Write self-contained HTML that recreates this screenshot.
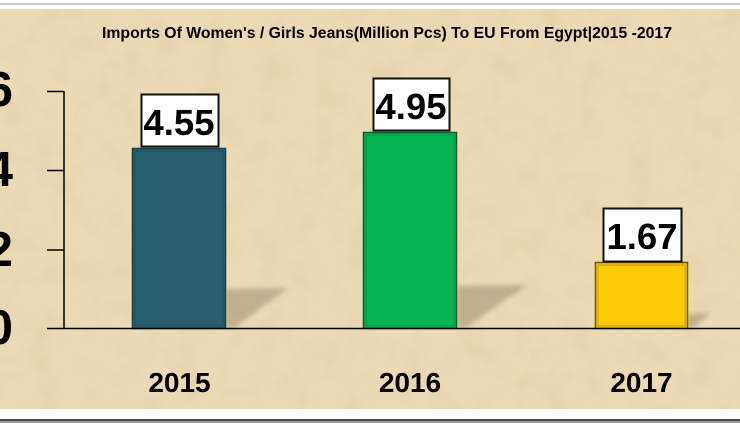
<!DOCTYPE html>
<html>
<head>
<meta charset="utf-8">
<style>
html,body{margin:0;padding:0;background:#fff;}
svg{display:block;}
text{font-family:"Liberation Sans",sans-serif;font-weight:bold;fill:#000;}
</style>
</head>
<body>
<svg width="740" height="423" viewBox="0 0 740 423" xmlns="http://www.w3.org/2000/svg">
<defs>
<filter id="tex" x="0" y="0" width="100%" height="100%">
<feTurbulence type="fractalNoise" baseFrequency="0.035" numOctaves="3" seed="4" result="n"/>
<feColorMatrix in="n" type="matrix" values="0 0 0 0 0.55  0 0 0 0 0.45  0 0 0 0 0.25  0 0 0 1.2 -0.55" result="c"/>
<feComposite in="c" in2="SourceGraphic" operator="in"/>
</filter>
<filter id="blur" x="-20%" y="-20%" width="140%" height="140%">
<feGaussianBlur stdDeviation="2.5"/>
</filter>
</defs>
<!-- frame -->
<rect x="0" y="0" width="740" height="423" fill="#ffffff"/>
<rect x="0" y="3" width="740" height="2" fill="#c9c9c9"/>
<rect x="0" y="9" width="740" height="400" fill="#ebdab5"/>
<rect x="0" y="9" width="740" height="400" fill="#ebdab5" filter="url(#tex)" opacity="0.35"/>
<rect x="0" y="419" width="740" height="2" fill="#4a4a4a"/>
<rect x="0" y="421" width="740" height="2" fill="#9a9a9a"/>

<!-- title -->
<text x="102" y="38" font-size="15.5" textLength="570" lengthAdjust="spacingAndGlyphs">Imports Of Women's / Girls Jeans(Million Pcs) To EU From Egypt|2015 -2017</text>

<!-- shadows -->
<polygon points="226,289 288,288 234,328 226,328" fill="#6b5a3c" opacity="0.32" filter="url(#blur)"/>
<polygon points="457,286 527,285 465,328 457,328" fill="#6b5a3c" opacity="0.32" filter="url(#blur)"/>
<polygon points="688,314 711,313 692,328 688,328" fill="#6b5a3c" opacity="0.32" filter="url(#blur)"/>

<!-- axis -->
<line x1="64" y1="91" x2="64" y2="329" stroke="#000" stroke-width="1.5"/>
<line x1="47" y1="91.5" x2="64" y2="91.5" stroke="#000" stroke-width="1.5"/>
<line x1="47" y1="170.5" x2="64" y2="170.5" stroke="#000" stroke-width="1.5"/>
<line x1="47" y1="250" x2="64" y2="250" stroke="#000" stroke-width="1.5"/>

<!-- y labels -->
<text x="13" y="106" font-size="49" text-anchor="end">6</text>
<text x="13" y="186" font-size="49" text-anchor="end">4</text>
<text x="13" y="266" font-size="49" text-anchor="end">2</text>
<text x="13" y="344" font-size="49" text-anchor="end">0</text>

<!-- bars -->
<rect x="132.5" y="148.5" width="93" height="180" fill="#28606e" stroke="#1a3e48" stroke-width="1.5"/>
<rect x="135" y="151" width="88" height="175" fill="none" stroke="#1f4d59" stroke-width="1"/>
<rect x="363.5" y="132.5" width="93" height="196" fill="#05b552" stroke="#0a5a2a" stroke-width="1.5"/>
<rect x="366" y="135" width="88" height="191" fill="none" stroke="#0a9040" stroke-width="1"/>
<rect x="595.5" y="262.5" width="92" height="66" fill="#ffcb06" stroke="#6b5400" stroke-width="1.5"/>
<rect x="598" y="265" width="87" height="61" fill="none" stroke="#c89a00" stroke-width="1"/>

<!-- baseline -->
<line x1="47" y1="328.5" x2="740" y2="328.5" stroke="#000" stroke-width="1.5"/>

<!-- value boxes -->
<rect x="141.5" y="94.5" width="77" height="52" fill="#ffffff" stroke="#111" stroke-width="2"/>
<text x="179" y="135" font-size="36.5" text-anchor="middle">4.55</text>
<rect x="373.5" y="78.5" width="76" height="52" fill="#ffffff" stroke="#111" stroke-width="2"/>
<text x="411" y="119" font-size="36.5" text-anchor="middle">4.95</text>
<rect x="603.5" y="208.5" width="78" height="53" fill="#ffffff" stroke="#111" stroke-width="2"/>
<text x="642" y="249" font-size="36.5" text-anchor="middle">1.67</text>

<!-- x labels -->
<text x="179.5" y="392" font-size="28" text-anchor="middle">2015</text>
<text x="410" y="392" font-size="28" text-anchor="middle">2016</text>
<text x="641.5" y="392" font-size="28" text-anchor="middle">2017</text>
</svg>
</body>
</html>
